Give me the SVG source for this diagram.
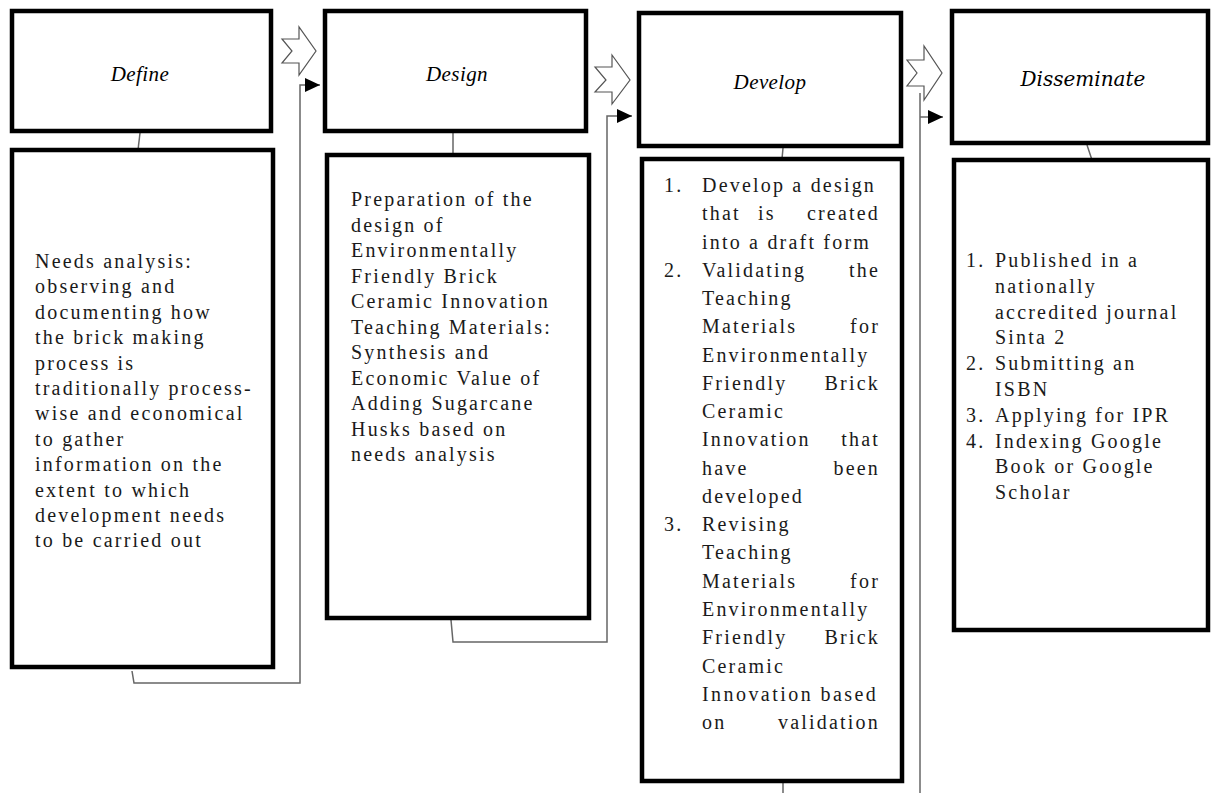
<svg xmlns="http://www.w3.org/2000/svg" width="1212" height="793" viewBox="0 0 1212 793">
<defs>
<style>
.box{fill:#fff;stroke:#000;stroke-width:4.5}
.conn{fill:none;stroke:#666;stroke-width:1.5}
.chev{fill:#fff;stroke:#555;stroke-width:1.2;stroke-linejoin:miter}
.body{font-family:"Liberation Serif","Times New Roman",serif;font-size:20px;letter-spacing:2.2px;fill:#1a1a1a}
.end{text-anchor:end}
.head{font-family:"Liberation Serif","Times New Roman",serif;font-style:italic;font-size:21px;fill:#000;text-anchor:middle;letter-spacing:0.4px}
.head2{font-family:"DejaVu Serif",serif;font-style:italic;font-size:20px;fill:#000;text-anchor:middle}
</style>
<marker id="ah" markerUnits="userSpaceOnUse" markerWidth="16" markerHeight="14" refX="15" refY="7" orient="auto">
<path d="M0,0 L15,7 L0,14 z" fill="#000"/>
</marker>
</defs>
<rect width="1212" height="793" fill="#fff"/>

<g id="connectors">
<polyline class="conn" points="140,133 138,150"/>
<polyline class="conn" points="453,133 453,155"/>
<polyline class="conn" points="783,148 782,159"/>
<polyline class="conn" points="1087,145 1092,160"/>
<polyline class="conn" points="132,671 134,683 300,683 300,85 320,85" marker-end="url(#ah)"/>
<polyline class="conn" points="451,620 453,642 607,642 607,116 632,116" marker-end="url(#ah)"/>
<polyline class="conn" points="783,783 783,793"/>
<polyline class="conn" points="920,793 920,93"/>
<polyline class="conn" points="920,117 943,117" marker-end="url(#ah)"/>
<polygon class="chev" points="282,39 299,39 299,27 316,51 299,75 299,63 282,63 292,51"/>
<polygon class="chev" points="595,67 612,67 612,55 630,80 612,104 612,92 595,92 606,80"/>
<polygon class="chev" points="907,60 924,60 924,46 942,73 924,100 924,86 907,86 917,73"/>
</g>

<g id="define">
<rect class="box" x="12" y="11" width="259" height="120"/>
<text class="head" x="140" y="81">Define</text>
</g>
<g id="define-body">
<rect class="box" x="12" y="150" width="261" height="517"/>
<text class="body" x="35" y="268">Needs analysis:</text>
<text class="body" x="35" y="293.4">observing and</text>
<text class="body" x="35" y="318.8">documenting how</text>
<text class="body" x="35" y="344.2">the brick making</text>
<text class="body" x="35" y="369.6">process is</text>
<text class="body" x="35" y="395">traditionally process-</text>
<text class="body" x="35" y="420.4">wise and economical</text>
<text class="body" x="35" y="445.8">to gather</text>
<text class="body" x="35" y="471.2">information on the</text>
<text class="body" x="35" y="496.6">extent to which</text>
<text class="body" x="35" y="522">development needs</text>
<text class="body" x="35" y="547.4">to be carried out</text>
</g>

<g id="design">
<rect class="box" x="325" y="11" width="261" height="120"/>
<text class="head" x="457" y="81">Design</text>
</g>
<g id="design-body">
<rect class="box" x="327" y="155" width="262" height="463"/>
<text class="body" x="351" y="206">Preparation of the</text>
<text class="body" x="351" y="231.5">design of</text>
<text class="body" x="351" y="257">Environmentally</text>
<text class="body" x="351" y="282.5">Friendly Brick</text>
<text class="body" x="351" y="308">Ceramic Innovation</text>
<text class="body" x="351" y="333.5">Teaching Materials:</text>
<text class="body" x="351" y="359">Synthesis and</text>
<text class="body" x="351" y="384.5">Economic Value of</text>
<text class="body" x="351" y="410">Adding Sugarcane</text>
<text class="body" x="351" y="435.5">Husks based on</text>
<text class="body" x="351" y="461">needs analysis</text>
</g>

<g id="develop">
<rect class="box" x="639" y="13" width="262" height="133"/>
<text class="head" x="770" y="89">Develop</text>
</g>
<g id="develop-body">
<rect class="box" x="642" y="159" width="260" height="622"/>
<text class="body" x="664" y="192">1.</text>
<text class="body" x="702" y="192">Develop a design</text>
<text class="body" x="702" y="220.3">that</text><text class="body" x="758" y="220.3">is</text><text class="body end" x="880" y="220.3">created</text>
<text class="body" x="702" y="248.5">into a draft form</text>
<text class="body" x="664" y="276.8">2.</text>
<text class="body" x="702" y="276.8">Validating</text><text class="body end" x="880" y="276.8">the</text>
<text class="body" x="702" y="305">Teaching</text>
<text class="body" x="702" y="333.3">Materials</text><text class="body end" x="880" y="333.3">for</text>
<text class="body" x="702" y="361.6">Environmentally</text>
<text class="body" x="702" y="389.8">Friendly</text><text class="body end" x="880" y="389.8">Brick</text>
<text class="body" x="702" y="418">Ceramic</text>
<text class="body" x="702" y="446.3">Innovation</text><text class="body end" x="880" y="446.3">that</text>
<text class="body" x="702" y="474.6">have</text><text class="body end" x="880" y="474.6">been</text>
<text class="body" x="702" y="502.9">developed</text>
<text class="body" x="664" y="531">3.</text>
<text class="body" x="702" y="531">Revising</text>
<text class="body" x="702" y="559.4">Teaching</text>
<text class="body" x="702" y="587.7">Materials</text><text class="body end" x="880" y="587.7">for</text>
<text class="body" x="702" y="616">Environmentally</text>
<text class="body" x="702" y="644.2">Friendly</text><text class="body end" x="880" y="644.2">Brick</text>
<text class="body" x="702" y="672.5">Ceramic</text>
<text class="body" x="702" y="700.8" textLength="176" lengthAdjust="spacing">Innovation based</text>
<text class="body" x="702" y="729">on</text><text class="body end" x="880" y="729">validation</text>
</g>

<g id="disseminate">
<rect class="box" x="952" y="11" width="256" height="132"/>
<text class="head2" x="1083" y="86">Disseminate</text>
</g>
<g id="disseminate-body">
<rect class="box" x="954" y="160" width="254" height="470"/>
<text class="body" x="966" y="267">1.</text>
<text class="body" x="995" y="267">Published in a</text>
<text class="body" x="995" y="292.8">nationally</text>
<text class="body" x="995" y="318.6">accredited journal</text>
<text class="body" x="995" y="344.4">Sinta 2</text>
<text class="body" x="966" y="370.2">2.</text>
<text class="body" x="995" y="370.2">Submitting an</text>
<text class="body" x="995" y="396">ISBN</text>
<text class="body" x="966" y="421.8">3.</text>
<text class="body" x="995" y="421.8">Applying for IPR</text>
<text class="body" x="966" y="447.6">4.</text>
<text class="body" x="995" y="447.6">Indexing Google</text>
<text class="body" x="995" y="473.4">Book or Google</text>
<text class="body" x="995" y="499.2">Scholar</text>
</g>
</svg>
